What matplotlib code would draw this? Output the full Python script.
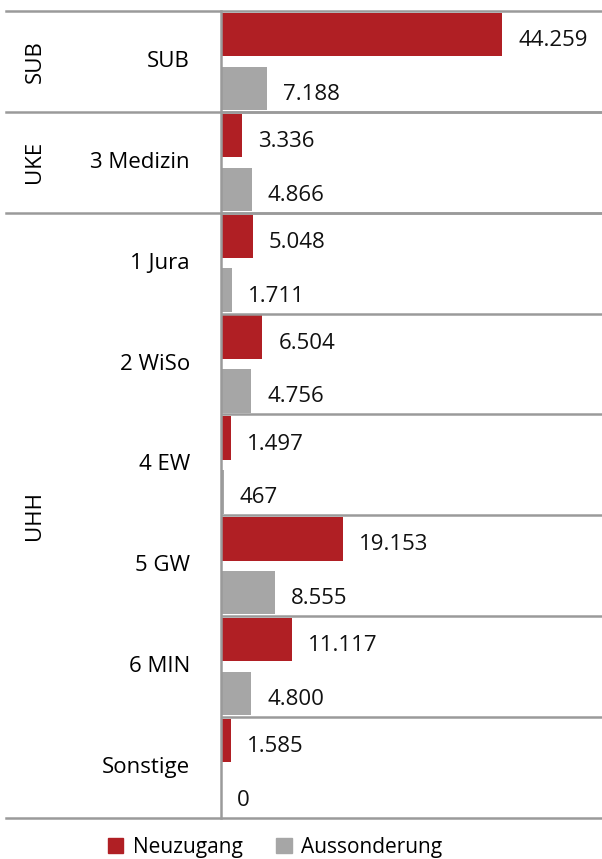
import numpy as np
import matplotlib.pyplot as plt
from matplotlib.patches import Patch

# values
categories = ["SUB", "3 Medizin", "1 Jura", "2 WiSo", "4 EW", "5 GW", "6 MIN", "Sonstige"]
neuzugang = [44259, 3336, 5048, 6504, 1497, 19153, 11117, 1585]
aussonderung = [7188, 4866, 1711, 4756, 467, 8555, 4800, 0]
groups = ["SUB", "UKE", "UHH"]
group_sizes = [1, 1, 6]

RED = "#B01F24"
GREY = "#A6A6A6"
LINE = "#9A9A9A"

plt.rcParams["font.family"] = ["Open Sans", "DejaVu Sans"]
FS = 16

W, H = 602, 859
fig = plt.figure(figsize=(W / 100, H / 100), dpi=100)
ax = fig.add_axes([221 / W, (H - 818) / H, (W - 221) / W, (818 - 11) / H])

n = len(categories)
rows = np.arange(n)
bh = 0.43
ax.barh(rows + 0.233, neuzugang, height=bh, color=RED)
ax.barh(rows + 0.767, aussonderung, height=bh, color=GREY)

def fmt(v):
    return f"{v:,}".replace(",", ".")

for i in range(n):
    for y, v in ((rows[i] + 0.233, neuzugang[i]), (rows[i] + 0.767, aussonderung[i])):
        ax.annotate(fmt(v), (v, y), xytext=(16, -6), textcoords="offset pixels",
                    ha="left", va="center", fontsize=FS, color="#111111")

ax.set_xlim(0, 60000)
ax.set_ylim(n, 0)
ax.set_xticks([])
ax.set_yticks([])
for s in ("top", "right", "bottom"):
    ax.spines[s].set_visible(False)
ax.spines["left"].set_color(LINE)
ax.spines["left"].set_linewidth(1.8)

tr = ax.get_yaxis_transform()
left = (6 - 221) / (W - 221)
bounds = np.cumsum([0] + group_sizes)
# separators within the plot area
for y in range(1, n):
    ax.axhline(y, color=LINE, lw=1.8)
# group boundaries across the whole width
for y in bounds:
    ax.plot([left, 1], [y, y], transform=tr, color=LINE, lw=1.8, clip_on=False)

# category labels
lab_x = (190 - 221) / (W - 221)
for i, c in enumerate(categories):
    ax.text(lab_x, i + 0.5, c, transform=tr, ha="right", va="center", fontsize=FS)

# group labels
grp_x = (35 - 221) / (W - 221)
for g, a, b in zip(groups, bounds[:-1], bounds[1:]):
    ax.text(grp_x, (a + b) / 2, g, transform=tr, rotation=90,
            ha="center", va="center", fontsize=FS)

handles = [Patch(color=RED, label="Neuzugang"), Patch(color=GREY, label="Aussonderung")]
fig.legend(handles=handles, loc="center", bbox_to_anchor=(275 / W, 1 - 847 / H),
           ncol=2, frameon=False, fontsize=15, handlelength=0.75, handleheight=0.75,
           handletextpad=0.45, columnspacing=1.6)

fig.savefig("out.png", dpi=100)
